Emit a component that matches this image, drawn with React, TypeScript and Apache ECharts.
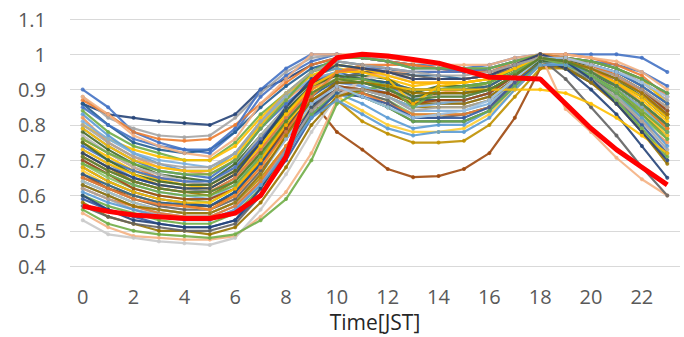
import React, { useEffect, useRef } from "react";
import * as echarts from "echarts";

const hours = Array.from({ length: 24 }, (_, i) => String(i));

const redProfile = [0.57, 0.555, 0.545, 0.54, 0.535, 0.535, 0.55, 0.6, 0.71, 0.92, 0.99, 1.0, 0.995, 0.985, 0.975, 0.955, 0.935, 0.933, 0.93, 0.86, 0.79, 0.73, 0.68, 0.63];

const profiles: number[][] = [
  [0.86, 0.83, 0.82, 0.81, 0.805, 0.8, 0.83, 0.9, 0.93, 0.97, 0.99, 0.99, 0.98, 0.97, 0.96, 0.96, 0.95, 0.97, 0.99, 0.97, 0.94, 0.9, 0.85, 0.8],
  [0.9, 0.85, 0.78, 0.75, 0.73, 0.72, 0.78, 0.88, 0.94, 0.98, 1.0, 0.99, 0.98, 0.97, 0.97, 0.96, 0.97, 0.99, 1.0, 1.0, 1.0, 1.0, 0.99, 0.95],
  [0.88, 0.82, 0.79, 0.77, 0.765, 0.77, 0.82, 0.89, 0.95, 0.99, 1.0, 0.99, 0.99, 0.98, 0.97, 0.96, 0.96, 0.98, 1.0, 0.99, 0.98, 0.96, 0.92, 0.87],
  [0.87, 0.83, 0.78, 0.76, 0.755, 0.76, 0.8, 0.86, 0.92, 0.97, 0.99, 0.99, 0.98, 0.97, 0.96, 0.95, 0.95, 0.98, 1.0, 0.99, 0.97, 0.94, 0.9, 0.84],
  [0.86, 0.8, 0.75, 0.73, 0.72, 0.73, 0.78, 0.85, 0.91, 0.96, 0.98, 0.97, 0.96, 0.94, 0.94, 0.93, 0.94, 0.97, 0.99, 0.98, 0.95, 0.92, 0.88, 0.82],
  [0.84, 0.78, 0.74, 0.72, 0.7, 0.7, 0.75, 0.83, 0.89, 0.95, 0.97, 0.96, 0.95, 0.93, 0.93, 0.93, 0.94, 0.97, 0.99, 0.97, 0.94, 0.9, 0.85, 0.8],
  [0.8, 0.76, 0.73, 0.71, 0.7, 0.7, 0.74, 0.82, 0.89, 0.94, 0.96, 0.95, 0.93, 0.91, 0.92, 0.92, 0.93, 0.96, 0.99, 0.98, 0.95, 0.91, 0.86, 0.79],
  [0.83, 0.77, 0.72, 0.69, 0.67, 0.67, 0.72, 0.8, 0.88, 0.94, 0.96, 0.94, 0.91, 0.87, 0.9, 0.91, 0.92, 0.96, 0.99, 0.98, 0.96, 0.93, 0.89, 0.84],
  [0.82, 0.75, 0.71, 0.68, 0.67, 0.66, 0.7, 0.79, 0.87, 0.93, 0.95, 0.93, 0.9, 0.86, 0.89, 0.9, 0.92, 0.96, 0.99, 0.96, 0.92, 0.87, 0.81, 0.75],
  [0.79, 0.74, 0.7, 0.67, 0.66, 0.65, 0.7, 0.79, 0.86, 0.92, 0.95, 0.93, 0.91, 0.88, 0.89, 0.89, 0.91, 0.95, 0.98, 0.97, 0.95, 0.92, 0.88, 0.83],
  [0.78, 0.73, 0.69, 0.66, 0.65, 0.64, 0.69, 0.77, 0.85, 0.92, 0.94, 0.94, 0.93, 0.89, 0.91, 0.91, 0.92, 0.96, 0.99, 0.98, 0.96, 0.93, 0.88, 0.82],
  [0.76, 0.72, 0.68, 0.65, 0.64, 0.63, 0.67, 0.76, 0.84, 0.91, 0.95, 0.95, 0.94, 0.92, 0.92, 0.92, 0.93, 0.96, 0.99, 0.98, 0.96, 0.94, 0.9, 0.85],
  [0.75, 0.71, 0.67, 0.645, 0.63, 0.62, 0.66, 0.74, 0.83, 0.9, 0.93, 0.93, 0.92, 0.9, 0.9, 0.9, 0.91, 0.95, 0.98, 0.97, 0.95, 0.92, 0.88, 0.82],
  [0.77, 0.72, 0.68, 0.66, 0.64, 0.63, 0.68, 0.77, 0.85, 0.91, 0.93, 0.92, 0.9, 0.88, 0.88, 0.88, 0.9, 0.94, 0.98, 0.98, 0.97, 0.95, 0.92, 0.88],
  [0.73, 0.69, 0.65, 0.63, 0.62, 0.61, 0.65, 0.73, 0.82, 0.89, 0.92, 0.91, 0.89, 0.86, 0.86, 0.86, 0.88, 0.93, 0.98, 0.97, 0.95, 0.91, 0.86, 0.8],
  [0.72, 0.68, 0.64, 0.62, 0.61, 0.6, 0.64, 0.72, 0.8, 0.87, 0.91, 0.9, 0.88, 0.85, 0.85, 0.85, 0.87, 0.92, 0.97, 0.96, 0.93, 0.89, 0.83, 0.77],
  [0.7, 0.66, 0.63, 0.61, 0.6, 0.59, 0.63, 0.71, 0.79, 0.87, 0.91, 0.9, 0.88, 0.84, 0.84, 0.84, 0.86, 0.92, 0.97, 0.97, 0.95, 0.93, 0.89, 0.84],
  [0.69, 0.65, 0.62, 0.6, 0.59, 0.58, 0.62, 0.7, 0.78, 0.86, 0.9, 0.89, 0.87, 0.83, 0.83, 0.83, 0.85, 0.91, 0.97, 0.96, 0.93, 0.88, 0.82, 0.76],
  [0.68, 0.64, 0.61, 0.59, 0.58, 0.57, 0.61, 0.69, 0.78, 0.86, 0.9, 0.88, 0.85, 0.81, 0.81, 0.81, 0.84, 0.91, 0.97, 0.96, 0.94, 0.91, 0.86, 0.8],
  [0.66, 0.62, 0.6, 0.58, 0.57, 0.57, 0.6, 0.7, 0.8, 0.87, 0.78, 0.73, 0.675, 0.652, 0.655, 0.675, 0.72, 0.82, 0.96, 0.97, 0.95, 0.91, 0.86, 0.8],
  [0.65, 0.62, 0.59, 0.57, 0.56, 0.56, 0.59, 0.67, 0.76, 0.85, 0.9, 0.89, 0.87, 0.82, 0.82, 0.83, 0.85, 0.91, 0.97, 0.96, 0.93, 0.89, 0.84, 0.78],
  [0.64, 0.61, 0.58, 0.56, 0.55, 0.55, 0.58, 0.65, 0.74, 0.83, 0.87, 0.81, 0.775, 0.75, 0.75, 0.755, 0.8, 0.88, 0.96, 0.96, 0.94, 0.9, 0.85, 0.79],
  [0.67, 0.63, 0.6, 0.58, 0.57, 0.56, 0.6, 0.68, 0.77, 0.85, 0.88, 0.84, 0.8, 0.78, 0.78, 0.79, 0.83, 0.9, 0.97, 0.97, 0.94, 0.9, 0.84, 0.77],
  [0.63, 0.6, 0.57, 0.55, 0.54, 0.54, 0.57, 0.64, 0.73, 0.83, 0.89, 0.86, 0.82, 0.79, 0.8, 0.8, 0.84, 0.91, 0.98, 0.97, 0.94, 0.89, 0.82, 0.74],
  [0.62, 0.59, 0.57, 0.55, 0.54, 0.54, 0.57, 0.64, 0.74, 0.84, 0.9, 0.89, 0.86, 0.83, 0.83, 0.83, 0.85, 0.92, 0.99, 0.98, 0.96, 0.92, 0.86, 0.79],
  [0.6, 0.57, 0.55, 0.53, 0.52, 0.52, 0.55, 0.62, 0.72, 0.83, 0.89, 0.88, 0.85, 0.81, 0.81, 0.81, 0.84, 0.91, 0.98, 0.97, 0.94, 0.89, 0.83, 0.76],
  [0.59, 0.56, 0.54, 0.52, 0.51, 0.51, 0.53, 0.6, 0.7, 0.82, 0.89, 0.88, 0.86, 0.82, 0.82, 0.82, 0.85, 0.92, 0.98, 0.96, 0.92, 0.87, 0.8, 0.72],
  [0.55, 0.51, 0.485, 0.48, 0.475, 0.475, 0.485, 0.54, 0.61, 0.72, 0.87, 0.93, 0.95, 0.95, 0.95, 0.95, 0.96, 0.98, 1.0, 0.845, 0.78, 0.707, 0.646, 0.6],
  [0.53, 0.49, 0.48, 0.47, 0.465, 0.46, 0.48, 0.56, 0.66, 0.78, 0.88, 0.93, 0.94, 0.93, 0.93, 0.93, 0.94, 0.97, 0.99, 0.97, 0.93, 0.87, 0.79, 0.7],
  [0.56, 0.52, 0.5, 0.49, 0.485, 0.48, 0.49, 0.53, 0.59, 0.7, 0.86, 0.9, 0.91, 0.9, 0.9, 0.9, 0.92, 0.96, 0.99, 0.97, 0.93, 0.87, 0.79, 0.71],
  [0.58, 0.54, 0.52, 0.5, 0.5, 0.49, 0.51, 0.58, 0.68, 0.8, 0.88, 0.9, 0.89, 0.86, 0.86, 0.86, 0.88, 0.93, 0.98, 0.96, 0.92, 0.86, 0.78, 0.69],
  [0.6, 0.56, 0.53, 0.52, 0.51, 0.51, 0.53, 0.62, 0.73, 0.85, 0.92, 0.92, 0.9, 0.87, 0.87, 0.87, 0.89, 0.94, 0.99, 0.96, 0.9, 0.83, 0.74, 0.65],
  [0.57, 0.54, 0.52, 0.51, 0.5, 0.5, 0.52, 0.6, 0.71, 0.84, 0.93, 0.95, 0.95, 0.94, 0.93, 0.93, 0.94, 0.96, 0.99, 0.93, 0.85, 0.77, 0.68, 0.6],
  [0.74, 0.7, 0.67, 0.65, 0.64, 0.64, 0.68, 0.76, 0.84, 0.91, 0.95, 0.96, 0.96, 0.95, 0.95, 0.95, 0.95, 0.97, 0.99, 0.99, 0.98, 0.97, 0.95, 0.91],
  [0.71, 0.67, 0.64, 0.62, 0.61, 0.61, 0.65, 0.73, 0.82, 0.9, 0.95, 0.97, 0.97, 0.97, 0.96, 0.95, 0.95, 0.97, 1.0, 1.0, 0.99, 0.97, 0.94, 0.88],
  [0.79, 0.74, 0.7, 0.68, 0.67, 0.67, 0.71, 0.8, 0.88, 0.94, 0.97, 0.96, 0.94, 0.92, 0.92, 0.92, 0.93, 0.96, 0.99, 0.99, 0.98, 0.96, 0.93, 0.86],
  [0.81, 0.76, 0.72, 0.7, 0.69, 0.68, 0.72, 0.81, 0.88, 0.93, 0.95, 0.91, 0.88, 0.85, 0.86, 0.87, 0.89, 0.94, 0.98, 0.97, 0.94, 0.9, 0.85, 0.78],
  [0.75, 0.7, 0.66, 0.64, 0.63, 0.63, 0.67, 0.75, 0.84, 0.91, 0.94, 0.93, 0.92, 0.88, 0.89, 0.89, 0.9, 0.94, 0.98, 0.98, 0.97, 0.95, 0.91, 0.86],
  [0.66, 0.63, 0.6, 0.58, 0.575, 0.57, 0.61, 0.69, 0.79, 0.88, 0.93, 0.93, 0.92, 0.9, 0.9, 0.9, 0.91, 0.95, 0.99, 0.99, 0.98, 0.96, 0.93, 0.89],
  [0.7, 0.66, 0.62, 0.6, 0.59, 0.59, 0.62, 0.7, 0.79, 0.87, 0.91, 0.9, 0.89, 0.86, 0.87, 0.87, 0.89, 0.94, 0.99, 0.99, 0.97, 0.94, 0.9, 0.84],
  [0.62, 0.59, 0.56, 0.545, 0.535, 0.53, 0.56, 0.63, 0.73, 0.84, 0.9, 0.9, 0.88, 0.84, 0.85, 0.85, 0.87, 0.93, 0.99, 0.97, 0.93, 0.88, 0.81, 0.73],
  [0.73, 0.69, 0.66, 0.63, 0.62, 0.62, 0.66, 0.74, 0.83, 0.91, 0.95, 0.95, 0.93, 0.86, 0.91, 0.92, 0.93, 0.96, 0.99, 0.98, 0.95, 0.92, 0.87, 0.81],
  [0.69, 0.66, 0.63, 0.61, 0.6, 0.6, 0.63, 0.71, 0.81, 0.89, 0.93, 0.93, 0.91, 0.85, 0.9, 0.91, 0.92, 0.95, 0.99, 0.97, 0.94, 0.9, 0.84, 0.78],
  [0.61, 0.58, 0.56, 0.54, 0.53, 0.53, 0.56, 0.63, 0.72, 0.82, 0.87, 0.83, 0.79, 0.77, 0.78, 0.78, 0.82, 0.9, 0.97, 0.97, 0.95, 0.91, 0.86, 0.8],
  [0.85, 0.8, 0.76, 0.74, 0.73, 0.73, 0.79, 0.9, 0.96, 1.0, 1.0, 0.99, 0.98, 0.96, 0.96, 0.95, 0.96, 0.98, 1.0, 0.99, 0.97, 0.95, 0.91, 0.86],
  [0.88, 0.83, 0.77, 0.74, 0.72, 0.71, 0.76, 0.86, 0.93, 1.0, 1.0, 1.0, 0.99, 0.98, 0.97, 0.97, 0.97, 0.99, 1.0, 1.0, 0.99, 0.98, 0.95, 0.9],
  [0.76, 0.72, 0.69, 0.67, 0.66, 0.66, 0.7, 0.79, 0.87, 0.95, 0.99, 0.99, 0.98, 0.96, 0.96, 0.96, 0.96, 0.98, 1.0, 0.99, 0.98, 0.96, 0.93, 0.89],
  [0.68, 0.64, 0.61, 0.59, 0.58, 0.58, 0.62, 0.7, 0.8, 0.89, 0.93, 0.92, 0.91, 0.9, 0.9, 0.9, 0.9, 0.9, 0.9, 0.89, 0.86, 0.82, 0.77, 0.72],
  [0.65, 0.62, 0.59, 0.575, 0.57, 0.56, 0.6, 0.68, 0.78, 0.88, 0.95, 0.96, 0.95, 0.93, 0.93, 0.93, 0.94, 0.97, 1.0, 0.99, 0.97, 0.94, 0.89, 0.83],
  [0.72, 0.68, 0.65, 0.63, 0.62, 0.62, 0.66, 0.75, 0.85, 0.93, 0.97, 0.96, 0.95, 0.93, 0.93, 0.93, 0.94, 0.97, 1.0, 0.98, 0.93, 0.86, 0.78, 0.7],
  [0.64, 0.61, 0.58, 0.56, 0.55, 0.55, 0.58, 0.66, 0.76, 0.86, 0.91, 0.88, 0.85, 0.82, 0.83, 0.84, 0.87, 0.93, 0.99, 0.99, 0.97, 0.95, 0.92, 0.88],
  [0.8, 0.75, 0.71, 0.69, 0.68, 0.68, 0.72, 0.81, 0.89, 0.95, 0.98, 0.97, 0.96, 0.95, 0.94, 0.94, 0.95, 0.97, 0.99, 0.98, 0.96, 0.94, 0.9, 0.85],
  [0.63, 0.6, 0.57, 0.56, 0.55, 0.55, 0.58, 0.66, 0.77, 0.87, 0.92, 0.92, 0.91, 0.89, 0.89, 0.89, 0.9, 0.94, 0.99, 0.98, 0.96, 0.93, 0.89, 0.83],
  [0.71, 0.67, 0.64, 0.62, 0.61, 0.61, 0.64, 0.72, 0.81, 0.89, 0.93, 0.92, 0.9, 0.87, 0.88, 0.88, 0.9, 0.94, 0.99, 0.98, 0.95, 0.91, 0.86, 0.8],
];

const lineColors = [
  "#264478", "#4472C4", "#A5A5A5", "#ED7D31", "#255E91", "#70AD47", "#FFC000", "#5B9BD5",
  "#F1975A", "#4472C4", "#43682B", "#ED7D31", "#FFC000", "#B7B7B7", "#698ED0", "#997300",
  "#7CAFDD", "#8CC168", "#264478", "#9E480E", "#636363", "#BF9000", "#FFCD33", "#5B9BD5",
  "#ED7D31", "#70AD47", "#335AA1", "#F4B183", "#C9C9C9", "#70AD47", "#997300", "#264478",
  "#636363", "#4472C4", "#ED7D31", "#FFC000", "#7CAFDD", "#43682B", "#255E91", "#9E480E",
  "#A5A5A5", "#FFC000", "#70AD47", "#5B9BD5", "#4472C4", "#F4B183", "#70AD47", "#FFC000",
  "#ED7D31", "#264478", "#9DC3E6", "#A5A5A5", "#997300", "#548235",
];

const yMin = 0.4;
const yMax = 1.1;
const yStep = 0.1;

export default function App() {
  const ref = useRef<HTMLDivElement>(null);
  useEffect(() => {
    if (!ref.current) return;
    const chart = echarts.init(ref.current, null, { renderer: "svg" });
    const series: any[] = profiles.map((p, i) => ({
      type: "line",
      data: p,
      symbol: "circle",
      symbolSize: 4,
      lineStyle: { width: 2.2, color: lineColors[i % lineColors.length], opacity: 0.9 },
      itemStyle: { color: lineColors[i % lineColors.length], opacity: 0.85 },
      silent: true,
      z: 2,
    }));
    series.push({
      type: "line",
      data: redProfile,
      symbol: "none",
      lineStyle: { width: 5, color: "#FF0000" },
      itemStyle: { color: "#FF0000" },
      z: 5,
    });
    chart.setOption({
      animation: false,
      backgroundColor: "#ffffff",
      grid: { left: 70, right: 4, top: 19, bottom: 62 },
      xAxis: {
        type: "category",
        data: hours,
        boundaryGap: true,
        axisLine: { show: false },
        axisTick: { show: false },
        axisLabel: {
          interval: 1,
          margin: 20,
          fontSize: 20,
          color: "#595959",
          fontFamily: "Open Sans",
        },
        name: "Time[JST]",
        nameLocation: "middle",
        nameGap: 37,
        nameTextStyle: { fontSize: 21, color: "#262626", fontFamily: "Open Sans" },
        splitLine: { show: false },
      },
      yAxis: {
        type: "value",
        min: yMin,
        max: yMax,
        interval: yStep,
        axisLine: { show: false },
        axisTick: { show: false },
        axisLabel: {
          margin: 24,
          fontSize: 20,
          color: "#595959",
          fontFamily: "Open Sans",
          formatter: (v: number) => String(Math.round(v * 10) / 10),
        },
        splitLine: { lineStyle: { color: "#D9D9D9", width: 1 } },
      },
      series,
    });
    return () => chart.dispose();
  }, []);
  return <div ref={ref} style={{ width: 684, height: 337, position: "absolute", left: 0, top: 0 }} />;
}
